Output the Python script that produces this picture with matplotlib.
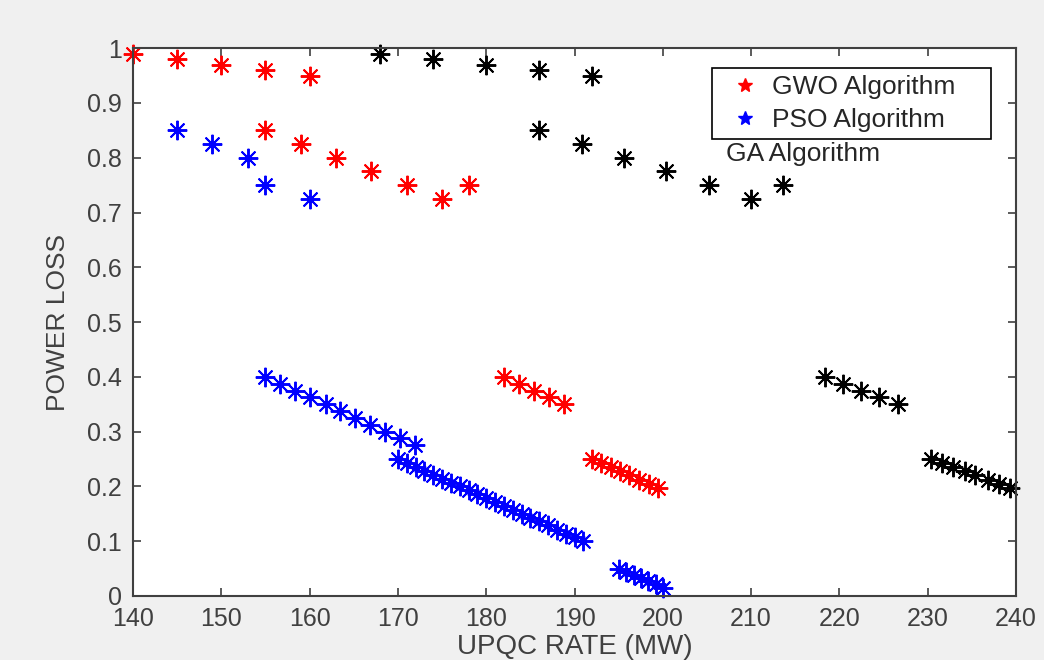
import numpy as np
import matplotlib
matplotlib.use("Agg")
from matplotlib import pyplot as plt
from matplotlib.lines import Line2D

plt.rcParams['font.family'] = ['Liberation Sans', 'DejaVu Sans']

# --- donnees ---
gwo_x = [140, 145, 150, 155, 160,
         155, 159, 163, 167, 171, 175, 178,
         182, 183.7, 185.4, 187.1, 188.8,
         192, 193, 194.1, 195.2, 196.2, 197.3, 198.4, 199.4]
gwo_y = [0.99, 0.98, 0.97, 0.96, 0.95,
         0.85, 0.825, 0.80, 0.775, 0.75, 0.725, 0.75,
         0.40, 0.3875, 0.375, 0.3625, 0.35,
         0.25, 0.2425, 0.235, 0.2275, 0.22, 0.2125, 0.205, 0.1975]

pso_x = [145, 149, 153, 155, 160,
         155, 156.7, 158.4, 160.1, 161.8, 163.4, 165.1, 166.8, 168.5, 170.2, 171.9,
         170, 171, 172, 173, 174, 175, 176, 177, 178, 179, 180,
         181, 182, 183, 184, 185, 186, 187, 188, 189, 190, 191,
         195, 195.8, 196.7, 197.5, 198.3, 199.2, 200]
pso_y = [0.85, 0.825, 0.80, 0.75, 0.725,
         0.40, 0.3875, 0.375, 0.3625, 0.35, 0.3375, 0.325, 0.3125, 0.30, 0.2875, 0.275,
         0.25, 0.243, 0.236, 0.229, 0.221, 0.214, 0.207, 0.200, 0.193, 0.186, 0.179,
         0.171, 0.164, 0.157, 0.150, 0.143, 0.136, 0.129, 0.121, 0.114, 0.107, 0.100,
         0.05, 0.044, 0.038, 0.032, 0.027, 0.021, 0.015]

ga_x = [168, 174, 180, 186, 192,
        186, 190.8, 195.6, 200.4, 205.2, 210, 213.6,
        218.4, 220.4, 222.5, 224.5, 226.6,
        230.4, 231.6, 232.9, 234.2, 235.4, 236.8, 238.1, 239.3]
ga_y = gwo_y

x_ticks = [140, 150, 160, 170, 180, 190, 200, 210, 220, 230, 240]
y_ticks = [0, 0.1, 0.2, 0.3, 0.4, 0.5, 0.6, 0.7, 0.8, 0.9, 1]
y_labels = ['0', '0.1', '0.2', '0.3', '0.4', '0.5', '0.6', '0.7', '0.8', '0.9', '1']

gris = '#404040'
fig = plt.figure(figsize=(10.44, 6.6), dpi=100, facecolor='#f0f0f0')
ax = fig.add_axes([0.1274, 0.097, 0.8458, 0.83])

ast = (8, 2, 0)
ax.plot(gwo_x, gwo_y, linestyle='none', marker=ast, ms=14, mew=1.4, color='#ff0000', clip_on=False)
ax.plot(pso_x, pso_y, linestyle='none', marker=ast, ms=14, mew=1.4, color='#0000ff', clip_on=False)
ax.plot(ga_x, ga_y, linestyle='none', marker=ast, ms=14, mew=1.4, color='black', clip_on=False)

ax.set_xlim(140, 240)
ax.set_ylim(0, 1)
ax.set_xticks(x_ticks)
ax.set_yticks(y_ticks)
ax.set_yticklabels(y_labels)
ax.tick_params(direction='in', top=True, right=True, length=6, width=1.2,
               color=gris, labelcolor=gris, labelsize=18, pad=8)
for s in ax.spines.values():
    s.set_color(gris)
    s.set_linewidth(1.5)

ax.set_xlabel('UPQC RATE (MW)', fontsize=20, color=gris, labelpad=2)
ax.set_ylabel('POWER LOSS', fontsize=19, color=gris, labelpad=12)

# legende (GA reste en dehors du cadre)
handles = [Line2D([], [], linestyle='none', marker='*', ms=10, color='#ff0000'),
           Line2D([], [], linestyle='none', marker='*', ms=10, color='#0000ff')]
leg = ax.legend(handles, ['GWO Algorithm    ', 'PSO Algorithm    '], loc='upper left',
                bbox_to_anchor=(0.656, 0.963), borderaxespad=0, fontsize=19,
                fancybox=False, framealpha=1, edgecolor='black', handlelength=2.0,
                handletextpad=0.0, borderpad=0.25, labelspacing=0.35)
leg.get_frame().set_linewidth(1.2)
for t in leg.get_texts():
    t.set_color('#262626')
ax.text(0.672, 0.806, 'GA Algorithm', transform=ax.transAxes, fontsize=19,
        color='#262626', va='center', ha='left')

fig.savefig('out.png', dpi=100, facecolor=fig.get_facecolor())
